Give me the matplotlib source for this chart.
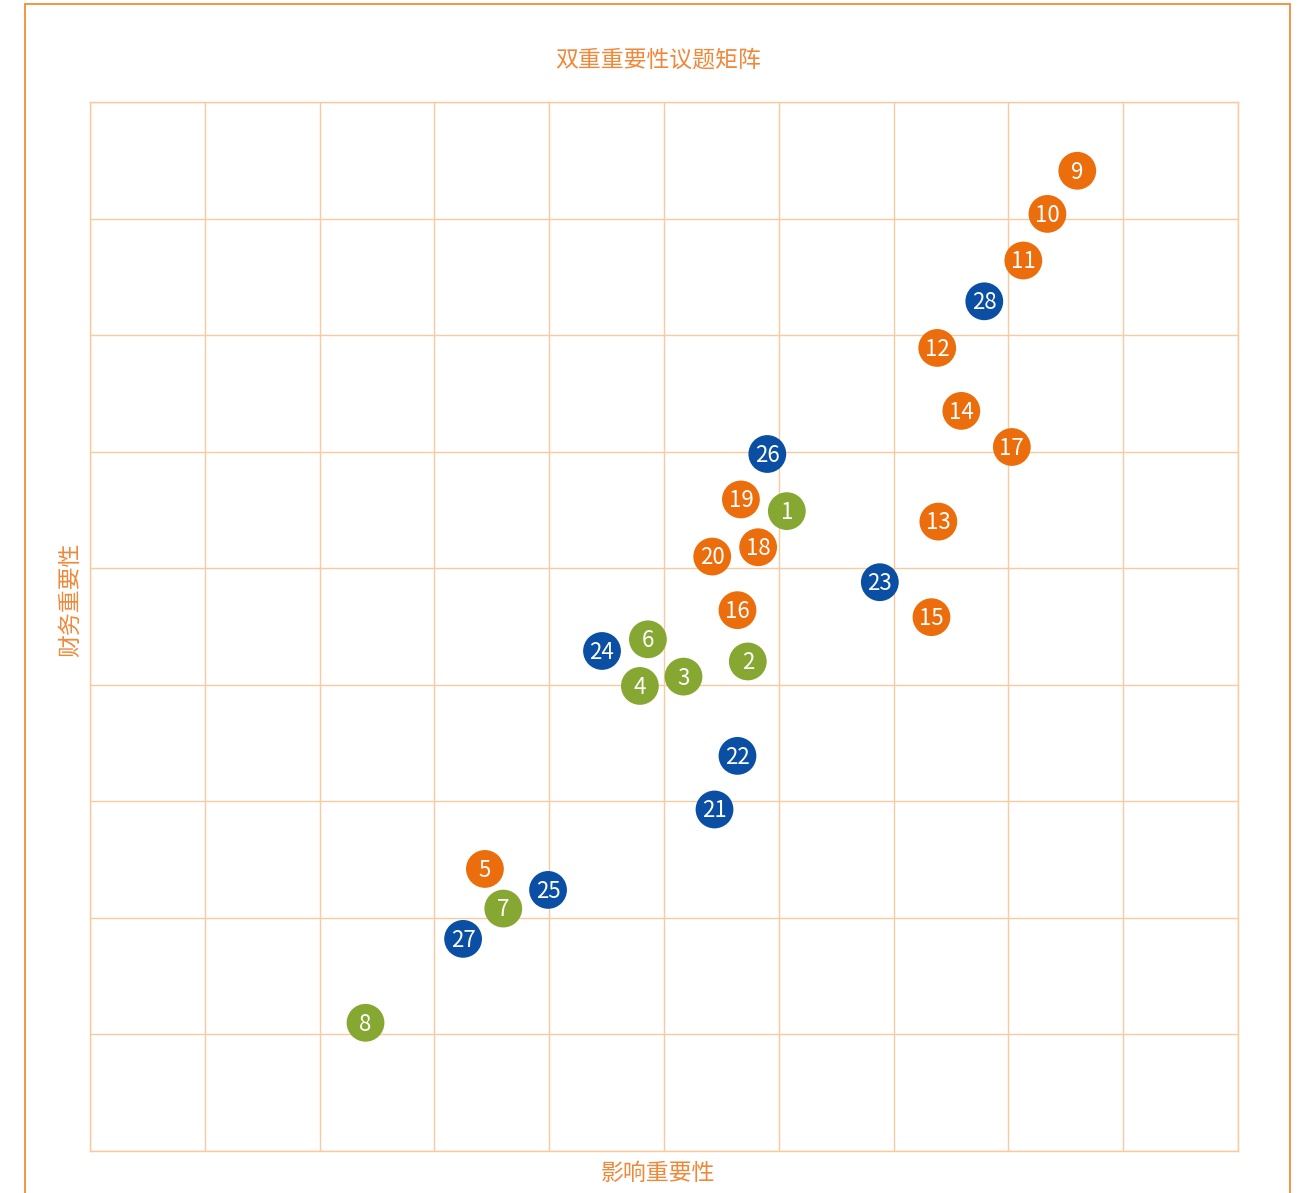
import matplotlib.pyplot as plt
from matplotlib.patches import Rectangle

plt.rcParams['font.family'] = ['Noto Sans CJK SC', 'DejaVu Sans']

# topic id, impact importance (x), financial importance (y)
orange_ids = ['9', '10', '11', '12', '14', '17', '19', '13', '18', '20', '16', '15', '5']
orange_x = [8.60, 8.34, 8.13, 7.38, 7.59, 8.03, 5.67, 7.39, 5.82, 5.42, 5.64, 7.33, 3.44]
orange_y = [8.41, 8.04, 7.64, 6.89, 6.35, 6.04, 5.59, 5.40, 5.18, 5.10, 4.64, 4.58, 2.42]

blue_ids = ['28', '26', '23', '24', '22', '21', '25', '27']
blue_x = [7.79, 5.90, 6.88, 4.46, 5.64, 5.44, 3.99, 3.25]
blue_y = [7.29, 5.98, 4.88, 4.29, 3.39, 2.93, 2.24, 1.82]

green_ids = ['1', '6', '2', '3', '4', '7', '8']
green_x = [6.07, 4.86, 5.73, 5.17, 4.79, 3.60, 2.40]
green_y = [5.49, 4.39, 4.20, 4.07, 3.99, 2.08, 1.10]

title = '双重重要性议题矩阵'
xlabel = '影响重要性'
ylabel = '财务重要性'

text_color = '#F0883A'
grid_color = '#F9C9A0'

fig = plt.figure(figsize=(13.12, 11.93), dpi=100)

# outer frame (runs off the bottom of the image)
fig.patches.append(Rectangle((25 / 1312, -0.05), 1265 / 1312, 1.05 - 4 / 1193,
                             transform=fig.transFigure, fill=False,
                             edgecolor='#F28C38', linewidth=1.3))

ax = fig.add_axes([90 / 1312, 1 - 1151 / 1193, 1148 / 1312, 1049 / 1193])
ax.set_xlim(0, 10)
ax.set_ylim(0, 9)
ax.set_xticks(range(11))
ax.set_yticks(range(10))
ax.tick_params(length=0, labelbottom=False, labelleft=False)
ax.grid(True, color=grid_color, linewidth=1)
ax.set_axisbelow(True)
for s in ax.spines.values():
    s.set_color(grid_color)
    s.set_linewidth(1)

for ids, xs, ys, c in [(orange_ids, orange_x, orange_y, '#EC6D0B'),
                       (blue_ids, blue_x, blue_y, '#0A4FA3'),
                       (green_ids, green_x, green_y, '#86A832')]:
    ax.scatter(xs, ys, s=740, color=c, edgecolors='none', zorder=3, clip_on=False)
    for t, x, y in zip(ids, xs, ys):
        ax.text(x, y - 0.012, t, color='white', fontsize=16, ha='center', va='center',
                fontweight='light', zorder=4)

fig.text(658 / 1312, 1 - 60 / 1193, title, color=text_color, fontsize=16.5,
         ha='center', va='center', fontweight='light')
fig.text(658 / 1312, 1 - 1173 / 1193, xlabel, color=text_color, fontsize=16.5,
         ha='center', va='center', fontweight='light')
fig.text(70 / 1312, 1 - 600 / 1193, ylabel, color=text_color, fontsize=16.5,
         ha='center', va='center', rotation=90, fontweight='light')

fig.savefig('out.png', dpi=100)
